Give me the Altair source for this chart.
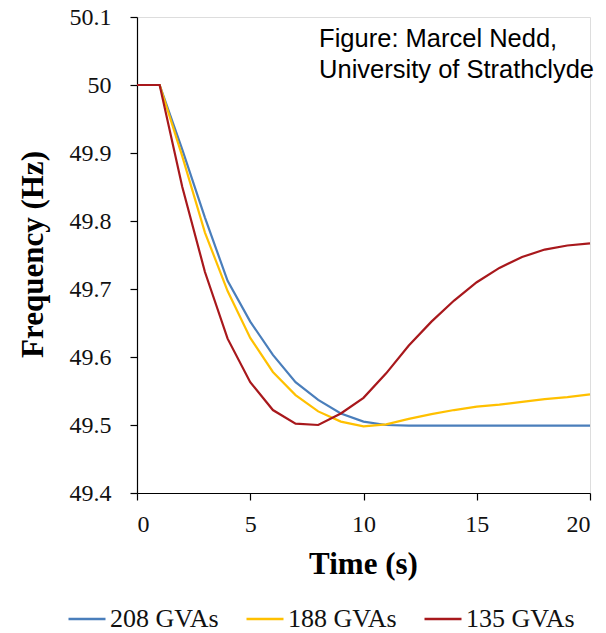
import altair as alt
import pandas as pd

time_s = list(range(0, 21))
f_208 = [50.0, 50.0, 49.905, 49.805, 49.712, 49.652, 49.603, 49.563, 49.537, 49.517, 49.505,
         49.500, 49.499, 49.499, 49.499, 49.499, 49.499, 49.499, 49.499, 49.499, 49.499]
f_188 = [50.0, 50.0, 49.895, 49.783, 49.697, 49.628, 49.578, 49.544, 49.520, 49.505, 49.498,
         49.501, 49.509, 49.516, 49.522, 49.527, 49.530, 49.534, 49.538, 49.541, 49.545]
f_135 = [50.0, 50.0, 49.850, 49.725, 49.627, 49.563, 49.522, 49.502, 49.500, 49.517, 49.540,
         49.576, 49.617, 49.652, 49.683, 49.710, 49.731, 49.747, 49.758, 49.764, 49.767]
series_names = ["208 GVAs", "188 GVAs", "135 GVAs"]
series_colors = ["#4A7EBB", "#FFC000", "#A8181C"]
x_ticks = [0, 5, 10, 15, 20]
y_ticks = [49.4, 49.5, 49.6, 49.7, 49.8, 49.9, 50.0, 50.1]
credit = ["Figure: Marcel Nedd,", "University of Strathclyde"]

rows = []
for name, vals in zip(series_names, [f_208, f_188, f_135]):
    for t, v in zip(time_s, vals):
        rows.append({"t": t, "f": v, "series": name})
df = pd.DataFrame(rows)

serif = "Liberation Serif, Times New Roman, serif"

lines = alt.Chart(df).mark_line(strokeWidth=2.2).encode(
    x=alt.X("t:Q", scale=alt.Scale(domain=[0, 20], nice=False),
            axis=alt.Axis(values=x_ticks, title="Time (s)", grid=False,
                          labelFont=serif, labelFontSize=24, labelColor="#111",
                          labelPadding=12, tickSize=7, tickColor="black",
                          domainColor="black", tickWidth=1.2, domainWidth=1.2,
                          titleFont=serif, titleFontSize=31, titleFontWeight="bold",
                          titleColor="black", titleX=226, titleY=71,
                          titleBaseline="middle")),
    y=alt.Y("f:Q", scale=alt.Scale(domain=[49.4, 50.1], nice=False, zero=False),
            axis=alt.Axis(values=y_ticks, title="Frequency (Hz)", grid=False,
                          labelExpr="datum.value == 50 ? '50' : format(datum.value, '.1f')",
                          labelFont=serif, labelFontSize=24, labelColor="#111",
                          labelPadding=19, tickSize=7, tickColor="black",
                          domainColor="black", tickWidth=1.2, domainWidth=1.2,
                          titleFont=serif, titleFontSize=31, titleFontWeight="bold",
                          titleColor="black", titleAngle=-90, titleX=-104, titleY=237,
                          titleBaseline="middle")),
    color=alt.Color("series:N", sort=series_names,
                    scale=alt.Scale(domain=series_names, range=series_colors),
                    legend=alt.Legend(title=None, orient="none", direction="horizontal",
                                      legendX=-70, legendY=582,
                                      symbolType="stroke", symbolSize=1369,
                                      symbolStrokeWidth=2.5, labelOffset=3,
                                      columnPadding=22,
                                      labelFont=serif, labelFontSize=26,
                                      labelColor="#111")),
)

credit_df = pd.DataFrame({"t": [8.04], "f": [50.1], "txt": [credit]})
note = alt.Chart(credit_df).mark_text(
    align="left", baseline="alphabetic", font="Liberation Sans", fontSize=25.5,
    lineHeight=31.3, color="black", dy=29.7
).encode(x="t:Q", y="f:Q", text="txt")

chart = alt.layer(lines, note).properties(
    width=453, height=476,
    autosize=alt.AutoSizeParams(type="none"),
    padding={"left": 129, "top": 9, "right": 8, "bottom": 139},
).configure_view(stroke=None).configure_axis(
    labelFont=serif
).configure(background="white")

chart.save("out.html", embed_options={"renderer": "svg", "actions": False})
